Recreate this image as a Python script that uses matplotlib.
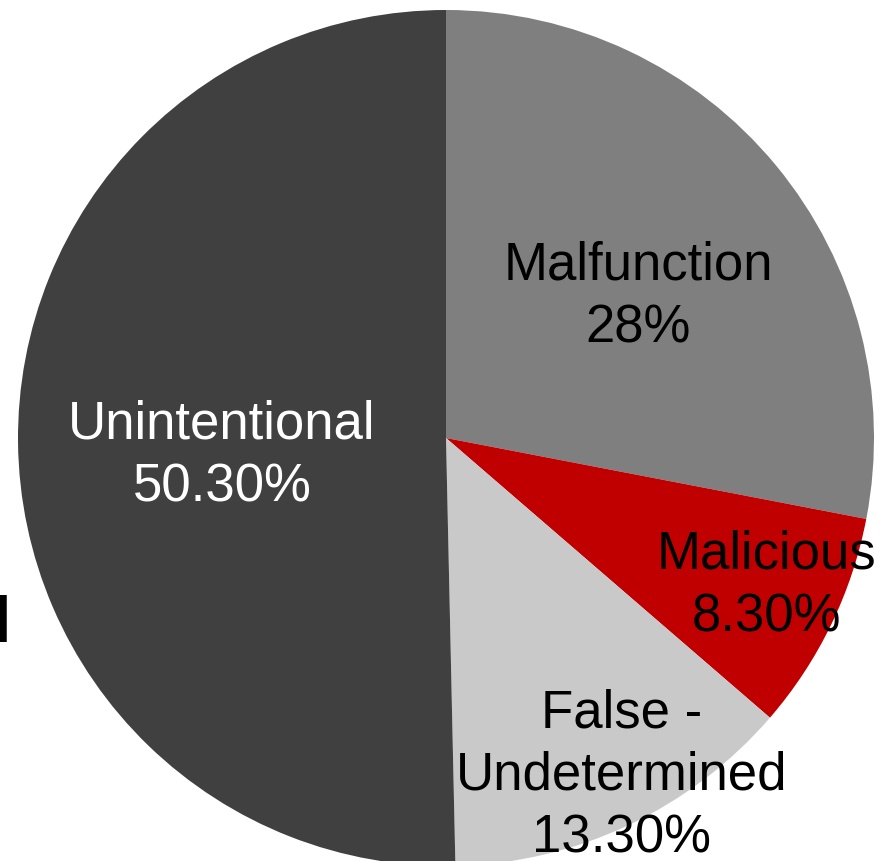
import matplotlib
matplotlib.use("Agg")
import matplotlib.pyplot as plt

plt.rcParams['font.family'] = ['Liberation Sans', 'DejaVu Sans']

categories = ["Malfunction", "Malicious", "False -\nUndetermined", "Unintentional"]
shares = [28.0, 8.3, 13.3, 50.3]
pct_labels = ["28%", "8.30%", "13.30%", "50.30%"]
colors = ["#7f7f7f", "#c00000", "#c9c9c9", "#404040"]
text_colors = ["black", "black", "black", "white"]

W, H = 891, 861
fig = plt.figure(figsize=(W / 100, H / 100), dpi=100)
ax = fig.add_axes([0, 0, 1, 1])

cx, cy, r = 446, H - 438, 428
ax.pie(shares, colors=colors, startangle=90, counterclock=False,
       center=(cx, cy), radius=r, frame=True,
       wedgeprops=dict(linewidth=0))
ax.set_xlim(0, W)
ax.set_ylim(0, H)
ax.set_aspect('equal')
ax.axis('off')

# label positions (pixels from top-left)
label_pos = [(638, 297), (766, 586), (622, 776), (222, 456)]
for name, pct, (x, y), tc in zip(categories, pct_labels, label_pos, text_colors):
    ax.text(x, H - y, name + "\n" + pct, ha='center', va='center',
            fontsize=38, color=tc, linespacing=1.32)

# cut-off bold text at left edge
ax.text(11, H - 624, "d", ha='right', va='center', fontsize=46,
        fontweight='bold', color='black')

fig.savefig("out.png", dpi=100)
